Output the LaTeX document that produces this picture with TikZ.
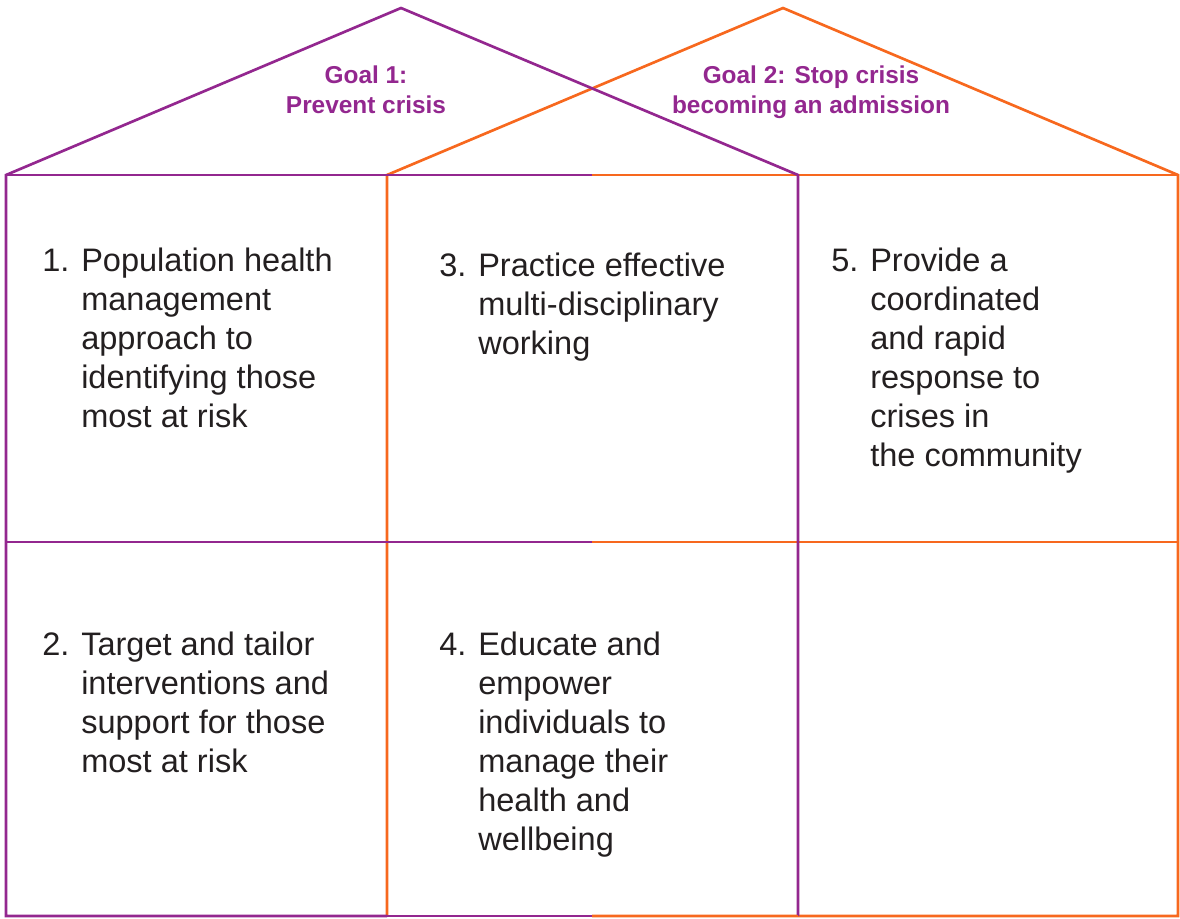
\documentclass[tikz,border=0pt]{standalone}
\usepackage{fontspec}
\setmainfont{Liberation Sans}
\definecolor{goalpurple}{HTML}{93278F}
\definecolor{goalorange}{HTML}{F7681E}
\definecolor{bodytext}{HTML}{231F20}
\begin{document}
\begin{tikzpicture}[x=0.75pt, y=-0.75pt,
        wall/.style={line width=2pt},
        goal/.style={text=goalpurple, font=\fontsize{18.3pt}{21.8pt}\selectfont\bfseries, align=center, inner sep=0pt, anchor=base},
        num/.style={text=bodytext, font=\fontsize{24.4pt}{29.25pt}\selectfont, inner sep=0pt, anchor=base west},
        item/.style={num, align=left}]
            \useasboundingbox (0,0) rectangle (1180,918);

            % corners of the two houses
            \coordinate (pa) at (6,175);
            \coordinate (pb) at (401,8);
            \coordinate (pc) at (798,175);
            \coordinate (pd) at (798,916);
            \coordinate (pe) at (6,916);
            \coordinate (oa) at (387,175);
            \coordinate (ob) at (783,8);
            \coordinate (oc) at (1178,175);
            \coordinate (od) at (1178,916);
            \coordinate (oe) at (387,916);
            \coordinate (ml) at (6,542);
            \coordinate (mm) at (592,542);
            \coordinate (mr) at (1178,542);
            \coordinate (tm) at (592,175);
            \coordinate (bm) at (592,916);

            % orange house
            \draw[wall, goalorange] (oe) -- (oa) -- (ob) -- (oc) -- (od) -- (bm);
            \draw[wall, goalorange] (tm) -- (oc);
            \draw[wall, goalorange] (mm) -- (mr);

            % purple house
            \draw[wall, goalpurple] (oe) -- (pe) -- (pa) -- (pb) -- (pc) -- (pd);
            \draw[wall, goalpurple] (pa) -- (tm);
            \draw[wall, goalpurple] (ml) -- (mm);
            \draw[wall, goalorange] (pd) -- (bm);
            \draw[wall, goalpurple] (oe) -- (bm);

            % goals (placed at the baseline of their last line)
            \node (g1) [goal] at (366,113) {Goal 1:\\Prevent crisis};
            \node (g2) [goal] at (811,113) {Goal 2: Stop crisis\\becoming an admission};

            % numbered items
            \node (n1) [num] at (42,271) {1.};
            \node (t1) [item] at (81,427) {Population health\\management\\approach to\\identifying those\\most at risk};
            \node (n2) [num] at (42,655) {2.};
            \node (t2) [item] at (81,772) {Target and tailor\\interventions and\\support for those\\most at risk};
            \node (n3) [num] at (439,276) {3.};
            \node (t3) [item] at (478,354) {Practice effective\\multi-disciplinary\\working};
            \node (n4) [num] at (439,655) {4.};
            \node (t4) [item] at (478,850) {Educate and\\empower\\individuals to\\manage their\\health and\\wellbeing};
            \node (n5) [num] at (831,271) {5.};
            \node (t5) [item] at (870,466) {Provide a\\coordinated\\and rapid\\response to\\crises in\\the community};

        \end{tikzpicture}
\end{document}
